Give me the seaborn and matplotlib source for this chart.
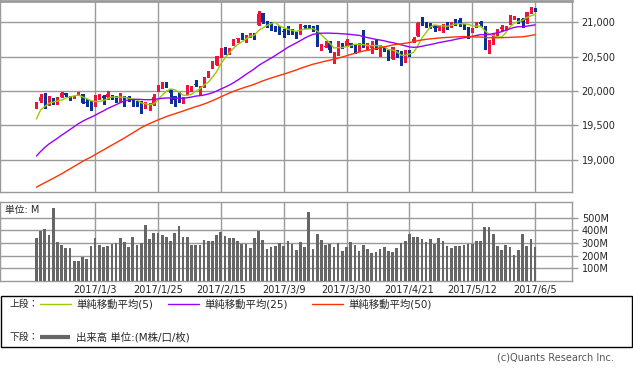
import matplotlib
matplotlib.use('Agg')
import matplotlib.pyplot as plt
from matplotlib.lines import Line2D
from matplotlib.patches import Rectangle
import numpy as np
import pandas as pd
import seaborn as sns

# daily bars, 2016/12/12 - 2017/6/5 (120 sessions)
open_ = [19770, 19852, 19912, 19811, 19877, 19836, 19911, 19969, 19923, 19908,
         19943, 19964, 19835, 19833, 19872, 19890, 19924, 19906, 19931, 19876,
         19887, 19927, 19912, 19874, 19839, 19834, 19795, 19795, 19794, 19994,
         20076, 20108, 20028, 19923, 19922, 19852, 19964, 20025, 20107, 20049,
         20061, 20211, 20338, 20374, 20504, 20627, 20564, 20663, 20750, 20814,
         20771, 20808, 20837, 20957, 21129, 21010, 20962, 20931, 20918, 20867,
         20920, 20891, 20853, 20874, 20953, 20951, 20916, 20955, 20631, 20645,
         20700, 20500, 20548, 20686, 20652, 20704, 20665, 20630, 20715, 20631,
         20631, 20661, 20633, 20652, 20584, 20462, 20567, 20559, 20424, 20589,
         20710, 20800, 20999, 20990, 20990, 20962, 20922, 20931, 20986, 20941,
         21026, 21032, 20975, 20930, 20882, 20928, 21001, 20940, 20588, 20680,
         20812, 20904, 20930, 20976, 21064, 21059, 21052, 21030, 21146, 21203]
high = [19843, 19953, 19966, 19921, 19904, 19917, 19988, 19974, 19934, 19934,
        19980, 19964, 19878, 19853, 19939, 19957, 19948, 19999, 19943, 19923,
        19974, 19928, 19934, 19878, 19854, 19849, 19843, 19833, 19950, 20082,
        20126, 20125, 20028, 19923, 19981, 19909, 20081, 20078, 20155, 20068,
        20206, 20298, 20441, 20504, 20620, 20640, 20624, 20758, 20777, 20840,
        20822, 20842, 20841, 21169, 21129, 21025, 20998, 20944, 20942, 20902,
        20941, 20907, 20853, 20978, 20959, 20961, 20941, 20955, 20684, 20724,
        20734, 20573, 20732, 20704, 20750, 20705, 20684, 20706, 20887, 20706,
        20721, 20751, 20672, 20660, 20593, 20636, 20596, 20578, 20603, 20593,
        20779, 21007, 21070, 21009, 20996, 20963, 20960, 20970, 21002, 21007,
        21050, 21067, 20979, 20937, 20914, 21000, 21018, 20940, 20743, 20843,
        20902, 20957, 20942, 21113, 21086, 21059, 21063, 21144, 21226, 21211]
low = [19752, 19846, 19749, 19796, 19818, 19818, 19906, 19928, 19873, 19899,
       19939, 19831, 19788, 19718, 19775, 19890, 19812, 19880, 19887, 19835,
       19836, 19777, 19853, 19785, 19785, 19678, 19760, 19731, 19794, 19994,
       20051, 20057, 19832, 19781, 19835, 19831, 19964, 19999, 20068, 19955,
       20061, 20211, 20338, 20374, 20496, 20536, 20532, 20663, 20711, 20759,
       20710, 20782, 20757, 20957, 20996, 20938, 20895, 20874, 20834, 20779,
       20827, 20836, 20778, 20828, 20912, 20912, 20879, 20660, 20597, 20634,
       20565, 20412, 20528, 20632, 20652, 20640, 20550, 20587, 20639, 20598,
       20559, 20606, 20513, 20578, 20453, 20462, 20490, 20380, 20421, 20514,
       20710, 20800, 20960, 20933, 20921, 20873, 20889, 20857, 20907, 20934,
       20957, 20942, 20903, 20777, 20858, 20928, 20952, 20606, 20554, 20680,
       20812, 20888, 20887, 20976, 21045, 20993, 20930, 20993, 21133, 21166]
close = [19796, 19911, 19792, 19852, 19843, 19883, 19974, 19941, 19918, 19933,
         19945, 19833, 19819, 19763, 19882, 19942, 19899, 19964, 19887, 19855,
         19954, 19891, 19885, 19826, 19804, 19732, 19827, 19799, 19913, 20069,
         20100, 20094, 19971, 19864, 19891, 19884, 20071, 20052, 20090, 20054,
         20172, 20269, 20413, 20504, 20612, 20620, 20624, 20744, 20776, 20811,
         20822, 20837, 20812, 21115, 21003, 21006, 20954, 20924, 20855, 20858,
         20903, 20881, 20837, 20950, 20934, 20914, 20906, 20669, 20661, 20656,
         20597, 20550, 20701, 20659, 20728, 20663, 20650, 20689, 20648, 20662,
         20656, 20658, 20651, 20591, 20453, 20636, 20523, 20404, 20578, 20548,
         20763, 20996, 20976, 20981, 20941, 20913, 20950, 20957, 20951, 21007,
         21013, 20975, 20943, 20919, 20897, 20982, 20980, 20607, 20663, 20805,
         20895, 20938, 20938, 21083, 21080, 21029, 21009, 21144, 21206, 21184]
# closes of the 49 sessions before the window, needed for the moving averages
prior_close = [18253, 18168, 18281, 18268, 18240, 18329, 18128, 18144, 18098, 18138,
               18086, 18161, 18202, 18162, 18145, 18223, 18169, 18199, 18170, 18161,
               18142, 18037, 17960, 17930, 17888, 18260, 18332, 18590, 18808, 18848,
               18869, 18924, 18868, 18904, 18868, 18957, 19024, 19084, 19152, 19098,
               19122, 19124, 19192, 19171, 19217, 19252, 19550, 19615, 19757]
# volume in millions
volume = [342, 395, 410, 363, 579, 305, 284, 263, 263, 158,
          158, 192, 174, 276, 342, 284, 271, 279, 292, 297,
          337, 305, 271, 347, 284, 303, 442, 332, 382, 379,
          363, 347, 316, 382, 434, 347, 347, 284, 284, 284,
          324, 316, 316, 363, 389, 355, 342, 337, 316, 295,
          295, 263, 337, 395, 324, 253, 268, 279, 297, 279,
          316, 292, 245, 305, 268, 547, 253, 368, 324, 284,
          292, 268, 297, 237, 268, 305, 284, 237, 284, 253,
          224, 232, 253, 266, 237, 226, 258, 297, 316, 368,
          345, 345, 332, 305, 332, 292, 337, 316, 279, 263,
          276, 276, 284, 295, 295, 316, 316, 426, 426, 371,
          276, 245, 284, 266, 205, 245, 371, 276, 332, 268]

tick_pos = [14, 29, 44, 59, 74, 89, 104, 119]
tick_labels = ['2017/1/3', '2017/1/25', '2017/2/15', '2017/3/9',
               '2017/3/30', '2017/4/21', '2017/5/12', '2017/6/5']
price_ticks = [19000, 19500, 20000, 20500, 21000]
vol_ticks = [100, 200, 300, 400, 500]

sns.set_style('white')
plt.rcParams['font.family'] = ['DejaVu Sans', 'Noto Sans CJK JP']

df = pd.DataFrame({'open': open_, 'high': high, 'low': low,
                   'close': close, 'volume': volume})
df['x'] = np.arange(len(df))
all_close = pd.Series(prior_close + close)
n_prior = len(prior_close)
for w in (5, 25, 50):
    df[f'ma{w}'] = all_close.rolling(w).mean().iloc[n_prior:].to_numpy()

RED = '#f0143c'
BLUE = '#0a3296'
GRID = '#9a9a9a'
MA_COLORS = {'ma5': '#99cc00', 'ma25': '#9900ff', 'ma50': '#ff3300'}

fig = plt.figure(figsize=(6.33, 3.70), dpi=100)
ax1 = fig.add_axes([0.0, 0.4824, 0.9036, 0.5149])
ax2 = fig.add_axes([0.0, 0.2405, 0.9036, 0.2127])

# --- upper panel: candles + moving averages ---
up = df['close'] >= df['open']
colors = np.where(up, RED, BLUE)
body_lo = df[['open', 'close']].min(axis=1)
body_h = (df['close'] - df['open']).abs().clip(lower=6)
ax1.vlines(df['x'], df['low'], df['high'], colors=colors, lw=1, zorder=3,
           antialiased=False)
ax1.bar(df['x'], body_h, bottom=body_lo, width=0.62, color=colors, lw=0,
        zorder=3, antialiased=False)
for col, c in MA_COLORS.items():
    sns.lineplot(data=df, x='x', y=col, color=c, lw=1, ax=ax1, zorder=4)

ax1.set_xlim(-8.7, 127.8)
ax1.set_ylim(18538, 21310)
ax1.set_xticks(tick_pos)
ax1.set_xticklabels([])
ax1.set_yticks(price_ticks)
ax1.set_yticklabels([f'{v:,}' for v in price_ticks])
ax1.set_xlabel('')
ax1.set_ylabel('')

# --- lower panel: volume ---
sns.barplot(data=df, x='x', y='volume', native_scale=True, color='#666666',
            saturation=1, width=0.64, errorbar=None, ax=ax2, zorder=3)
for p in ax2.patches:
    p.set_antialiased(False)
    p.set_linewidth(0)
ax2.set_xlim(-8.7, 127.8)
ax2.set_ylim(0, 620)
ax2.set_xticks(tick_pos)
ax2.set_xticklabels(tick_labels)
ax2.set_yticks(vol_ticks)
ax2.set_yticklabels([f'{v}M' for v in vol_ticks])
ax2.set_xlabel('')
ax2.set_ylabel('')
ax2.text(0.008, 0.905, '単位: M', transform=ax2.transAxes, fontsize=7,
         va='center', ha='left')

for ax in (ax1, ax2):
    ax.grid(True, color=GRID, lw=1, zorder=0)
    ax.set_axisbelow(True)
    ax.yaxis.tick_right()
    ax.tick_params(axis='y', length=4, width=1, color=GRID, pad=3, labelsize=7)
    ax.tick_params(axis='x', length=0, pad=3, labelsize=7)
    for s in ax.spines.values():
        s.set_color(GRID)
        s.set_linewidth(1)
ax1.spines['top'].set_linewidth(2)

# --- legend box ---
fig.add_artist(Rectangle((0.001, 0.062), 0.997, 0.138, transform=fig.transFigure,
                         fill=False, edgecolor='black', lw=1))
px = lambda v: v / 633
row1, row2 = 1 - 304 / 370, 1 - 337 / 370
fig.text(px(10), row1, '上段：', fontsize=7, va='center')
fig.text(px(10), row2, '下段：', fontsize=7, va='center')
items = [('ma5', 40, '単純移動平均(5)'), ('ma25', 168, '単純移動平均(25)'),
         ('ma50', 312, '単純移動平均(50)')]
for col, x0, label in items:
    fig.add_artist(Line2D([px(x0), px(x0 + 31)], [row1, row1],
                          color=MA_COLORS[col], lw=1, transform=fig.transFigure))
    fig.text(px(x0 + 36), row1, label, fontsize=7.5, va='center')
fig.add_artist(Line2D([px(40), px(70)], [row2, row2], color='#666666', lw=3,
                      solid_capstyle='butt', transform=fig.transFigure))
fig.text(px(76), row2, '出来高 単位:(M株/口/枚)', fontsize=7.5, va='center')
fig.text(px(614), 1 - 357 / 370, '(c)Quants Research Inc.', fontsize=7,
         ha='right', va='center', color='#555555')

fig.savefig('out.png', dpi=100)
